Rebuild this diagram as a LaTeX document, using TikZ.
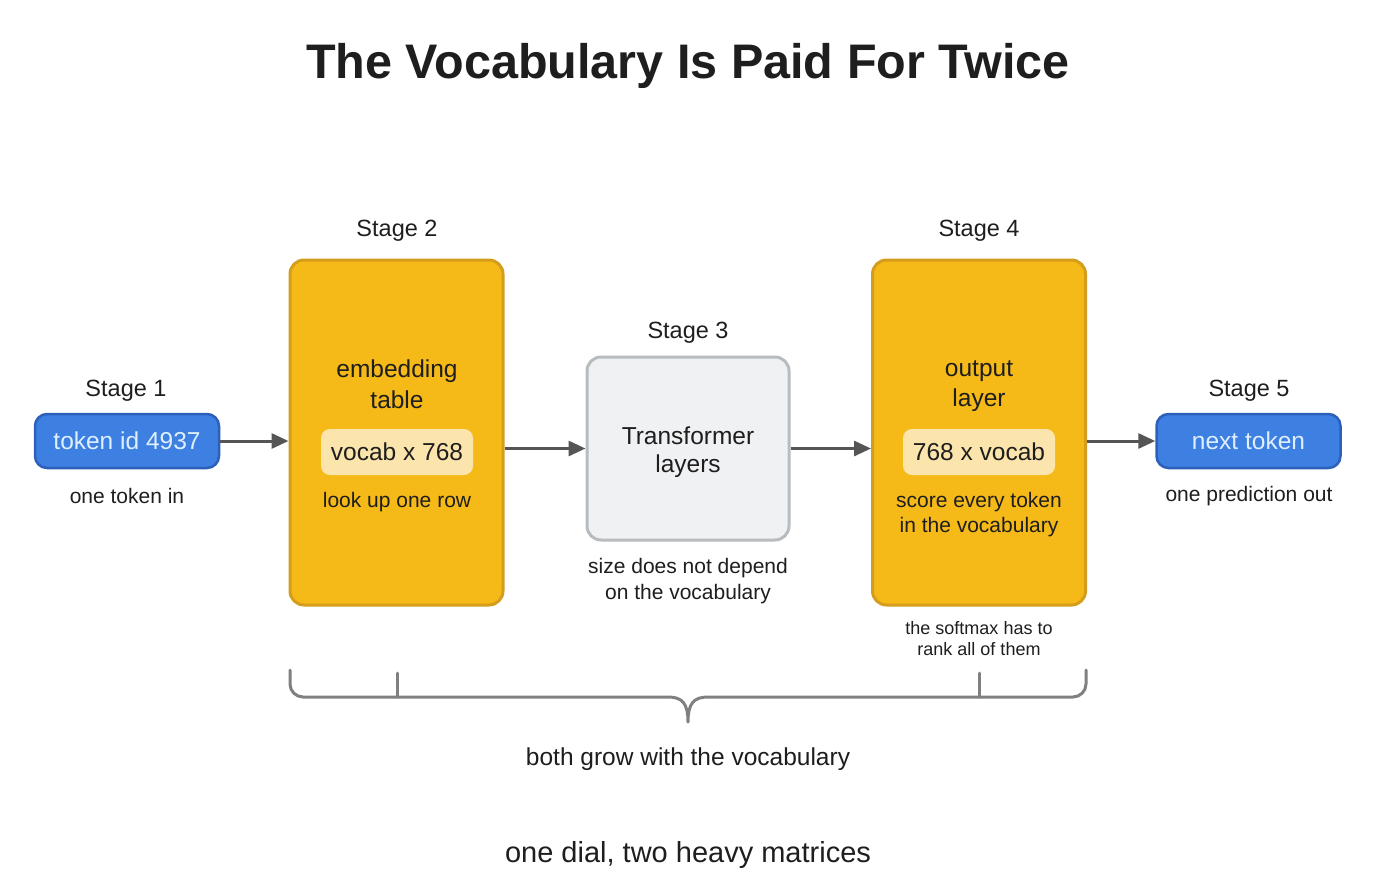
\documentclass[tikz,border=0pt]{standalone}
\usepackage{fontspec}
\setmainfont{Liberation Sans}
\usetikzlibrary{arrows.meta}
\definecolor{gold}{RGB}{245,185,24}
\definecolor{goldline}{RGB}{212,158,28}
\definecolor{pale}{RGB}{252,229,172}
\definecolor{bluefill}{RGB}{62,127,226}
\definecolor{blueline}{RGB}{44,96,186}
\definecolor{bluetext}{RGB}{222,240,255}
\definecolor{grayfill}{RGB}{240,241,242}
\definecolor{grayline}{RGB}{184,188,190}
\definecolor{arrowc}{RGB}{85,85,85}
\definecolor{bracec}{RGB}{128,128,128}
\definecolor{txt}{RGB}{30,30,30}
\newcommand{\fs}[1]{\fontsize{#1}{#1}\selectfont}
\tikzset{
  goldbox/.style={draw=goldline,fill=gold,line width=3pt,rounded corners=14pt,minimum width=213pt,minimum height=345pt,inner sep=0pt},
  bluebox/.style={draw=blueline,fill=bluefill,line width=2.5pt,rounded corners=12pt,minimum width=184pt,minimum height=54pt,inner sep=0pt,text=bluetext,font=\fs{24.5}},
  graybox/.style={draw=grayline,fill=grayfill,line width=3pt,rounded corners=14pt,minimum width=202pt,minimum height=183pt,inner sep=0pt},
  palebox/.style={fill=pale,rounded corners=9pt,minimum width=152pt,minimum height=46pt,inner sep=0pt,text=txt,font=\fs{24.5}},
  stagelbl/.style={text=txt,font=\fs{23.5},inner sep=0pt,yshift=-3pt},
  mainlbl/.style={text=txt,font=\fs{24.5},inner sep=0pt,align=center,yshift=-2pt},
  sublbl/.style={text=txt,font=\fs{21},inner sep=0pt,align=center,yshift=-2pt},
  smalllbl/.style={text=txt,font=\fs{18},inner sep=0pt,align=center,yshift=-1pt},
  flow/.style={draw=arrowc,line width=3pt,-{Triangle[length=17pt,width=15pt]}},
  brace/.style={draw=bracec,line width=3pt,line cap=round,line join=round},
}
\begin{document}
\begin{tikzpicture}[x=1pt,y=-1pt]
\useasboundingbox (0,0) rectangle (1376,876);
\fill[white] (0,0) rectangle (1376,876);

\node[text=txt,font=\bfseries\fs{48.5},inner sep=0pt,yshift=-4pt] (title) at (688,62) {The Vocabulary Is Paid For Twice};

% Stage 1
\node[stagelbl] (s1) at (126,388) {Stage 1};
\node[bluebox] (b1) at (127,441) {token id 4937};
\node[sublbl] (c1) at (127,494) {one token in};

% Stage 2
\node[stagelbl] (s2) at (397,228) {Stage 2};
\node[goldbox] (b2) at (396.5,432.5) {};
\node[mainlbl] (t2a) at (397,369) {embedding};
\node[mainlbl] (t2b) at (397,398) {table};
\node[palebox] (p2) at (397,452) {vocab x 768};
\node[sublbl] (c2) at (397,500) {look up one row};

% Stage 3
\node[stagelbl] (s3) at (688,330) {Stage 3};
\node[graybox] (b3) at (688,448.5) {};
\node[mainlbl] (t3a) at (688,434) {Transformer};
\node[mainlbl] (t3b) at (688,464) {layers};
\node[sublbl] (c3a) at (688,566) {size does not depend};
\node[sublbl] (c3b) at (688,592) {on the vocabulary};

% Stage 4
\node[stagelbl] (s4) at (979,228) {Stage 4};
\node[goldbox] (b4) at (979,432.5) {};
\node[mainlbl] (t4a) at (979,369) {output};
\node[mainlbl] (t4b) at (979,398) {layer};
\node[palebox] (p4) at (979,452) {768 x vocab};
\node[sublbl] (c4a) at (979,500) {score every token};
\node[sublbl] (c4b) at (979,525) {in the vocabulary};
\node[smalllbl] (c4c) at (979,627) {the softmax has to};
\node[smalllbl] (c4d) at (979,648) {rank all of them};

% Stage 5
\node[stagelbl] (s5) at (1249,388) {Stage 5};
\node[bluebox] (b5) at (1248.5,441) {next token};
\node[sublbl] (c5) at (1249,494) {one prediction out};

% arrows
\draw[flow] (b1.east) -- (b1.east -| b2.west);
\draw[flow] (b2.east |- b3.west) -- (b3.west);
\draw[flow] (b3.east) -- (b3.east -| b4.west);
\draw[flow] (b4.east |- b5.west) -- (b5.west);

% brace
\coordinate (bl) at (290,670);
\coordinate (br) at (1086,670);
\coordinate (bm) at (688,722);
\draw[brace] (bl) -- (290,684) arc[start angle=180,end angle=90,radius=13] -- (668,697)
  .. controls (682,697) and (688,703) .. (bm)
  .. controls (688,703) and (694,697) .. (708,697) -- (1073,697)
  arc[start angle=90,end angle=0,radius=13] -- (br);
\draw[brace] (397,697) -- (397,673);
\draw[brace] (979,697) -- (979,673);

\node[text=txt,font=\fs{24.5},inner sep=0pt,yshift=-2pt] (both) at (688,757) {both grow with the vocabulary};
\node[text=txt,font=\fs{29},inner sep=0pt,yshift=-3pt] (dial) at (688,852) {one dial, two heavy matrices};
\end{tikzpicture}
\end{document}
